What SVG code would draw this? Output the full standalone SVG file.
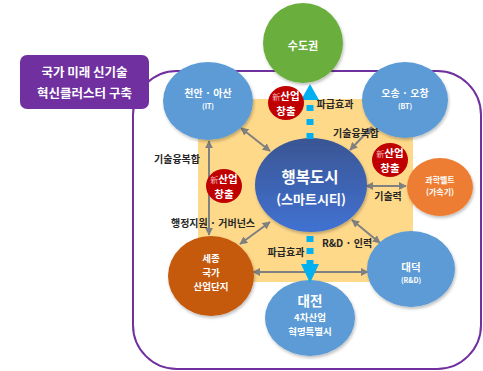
<svg xmlns="http://www.w3.org/2000/svg" width="483" height="371" viewBox="0 0 483 371">
<defs>
<style>
text{font-family:"Noto Sans CJK KR","Noto Sans",sans-serif;font-weight:bold;text-anchor:middle}
.lbl{font-size:10px;fill:#262626}
.wt{fill:#ffffff}
.ga{stroke:#808080;stroke-width:2;fill:none;marker-start:url(#gh);marker-end:url(#gh)}
.dash{stroke:#00B0F0;stroke-width:7;fill:none}
.badge{fill:#C00000}
.blue{fill:#5B9BD5}
.bt{fill:#ffffff;font-size:10.5px}
.xin{fill:#F4B8B8;font-size:8px;font-weight:normal}
</style>
<marker id="gh" viewBox="0 0 10 10" refX="9" refY="5" markerWidth="8" markerHeight="8" markerUnits="userSpaceOnUse" orient="auto-start-reverse">
<path d="M0,0 L10,5 L0,10 Z" fill="#808080"/>
</marker>
<linearGradient id="cg" x1="0" y1="0" x2="0" y2="1">
<stop offset="0" stop-color="#3A5593"/>
<stop offset="1" stop-color="#4172D2"/>
</linearGradient>
<filter id="sh" x="-20%" y="-20%" width="140%" height="140%">
<feDropShadow dx="1" dy="2" stdDeviation="1.5" flood-color="#000" flood-opacity="0.25"/>
</filter>
</defs>

<rect x="133" y="71" width="348" height="298" rx="44" fill="none" stroke="#7030A0" stroke-width="2"/>
<rect x="198" y="99" width="215" height="183" fill="#FFD98A"/>

<g id="connectors">
<line class="ga" x1="241" y1="128" x2="270" y2="151"/>
<line class="ga" x1="209" y1="141" x2="209" y2="235"/>
<line class="ga" x1="372" y1="127" x2="350" y2="150"/>
<line class="ga" x1="366" y1="186" x2="406" y2="186"/>
<line class="ga" x1="270" y1="222" x2="240" y2="244"/>
<line class="ga" x1="352" y1="220" x2="380" y2="243"/>
<line class="ga" x1="253" y1="272" x2="368" y2="272"/>
</g>

<g id="label-box">
<rect x="20" y="55" width="129" height="54" rx="7" fill="#7030A0"/>
<text class="wt" x="84.5" y="77" font-size="12.5">국가 미래 신기술</text>
<text class="wt" x="84.5" y="98" font-size="12.5">혁신클러스터 구축</text>
</g>

<g id="n-sudogwon">
<circle cx="303" cy="43" r="40" fill="#6AAF3D" filter="url(#sh)"/>
<text class="wt" x="303" y="50" font-size="11">수도권</text>
</g>
<g id="n-cheonan">
<ellipse class="blue" cx="208" cy="101" rx="45" ry="39" filter="url(#sh)"/>
<text class="wt" x="208" y="97" font-size="10">천안 · 아산</text>
<text class="wt" x="208" y="108.5" font-size="7">(IT)</text>
</g>
<g id="n-osong">
<ellipse class="blue" cx="405" cy="100" rx="43" ry="38" filter="url(#sh)"/>
<text class="wt" x="405" y="97" font-size="10">오송 · 오창</text>
<text class="wt" x="405" y="109" font-size="7">(BT)</text>
</g>
<g id="n-center">
<ellipse cx="311" cy="185" rx="56" ry="47" fill="url(#cg)" filter="url(#sh)"/>
<text class="wt" x="310" y="183" font-size="15.5">행복도시</text>
<text class="wt" x="311" y="204" font-size="13">(스마트시티)</text>
</g>
<g id="n-sciencebelt">
<ellipse cx="440" cy="187" rx="33" ry="29" fill="#ED7D31" filter="url(#sh)"/>
<text class="wt" x="440" y="183" font-size="8">과학벨트</text>
<text class="wt" x="440" y="195" font-size="8">(가속기)</text>
</g>
<g id="n-sejong">
<ellipse cx="211" cy="276" rx="43" ry="40" fill="#C55A11" filter="url(#sh)"/>
<text class="wt" x="211" y="262" font-size="9.5">세종</text>
<text class="wt" x="211" y="276" font-size="9.5">국가</text>
<text class="wt" x="211" y="290" font-size="9.5">산업단지</text>
</g>
<g id="n-daedeok">
<ellipse class="blue" cx="411" cy="269" rx="44" ry="38" filter="url(#sh)"/>
<text class="wt" x="411" y="271" font-size="10.5">대덕</text>
<text class="wt" x="411" y="283" font-size="7">(R&amp;D)</text>
</g>
<g id="n-daejeon">
<ellipse class="blue" cx="310" cy="318" rx="45" ry="38" filter="url(#sh)"/>
<text class="wt" x="310" y="306" font-size="13.5">대전</text>
<text class="wt" x="310" y="321" font-size="9.5">4차산업</text>
<text class="wt" x="310" y="335" font-size="9.5">혁명특별시</text>
</g>

<g id="dashed-arrows">
<line class="dash" x1="310" y1="139" x2="310" y2="100" stroke-dasharray="6 8"/>
<polygon points="301,100 319,100 310,84" fill="#00B0F0"/>
<line class="dash" x1="310" y1="236" x2="310" y2="264" stroke-dasharray="6 6"/>
<polygon points="301,264 319,264 310,283" fill="#00B0F0"/>
</g>

<g id="badge-top">
<ellipse class="badge" cx="286" cy="103" rx="18" ry="17"/>
<text class="bt" x="286" y="100"><tspan class="xin">新</tspan>산업</text>
<text class="bt" x="286" y="115.2">창출</text>
</g>
<g id="badge-right">
<ellipse class="badge" cx="390" cy="160" rx="18" ry="17"/>
<text class="bt" x="390" y="157"><tspan class="xin">新</tspan>산업</text>
<text class="bt" x="390" y="172.2">창출</text>
</g>
<g id="badge-left">
<ellipse class="badge" cx="224" cy="186" rx="18" ry="17"/>
<text class="bt" x="224" y="183"><tspan class="xin">新</tspan>산업</text>
<text class="bt" x="224" y="198.2">창출</text>
</g>

<g id="labels">
<text class="lbl" x="335" y="108">파급효과</text>
<text class="lbl" x="356" y="137">기술융복합</text>
<text class="lbl" x="177" y="163">기술융복합</text>
<text class="lbl" x="388" y="200">기술력</text>
<text class="lbl" x="213" y="227">행정지원 · 거버넌스</text>
<text class="lbl" x="347" y="247">R&amp;D · 인력</text>
<text class="lbl" x="286" y="256">파급효과</text>
</g>
</svg>
